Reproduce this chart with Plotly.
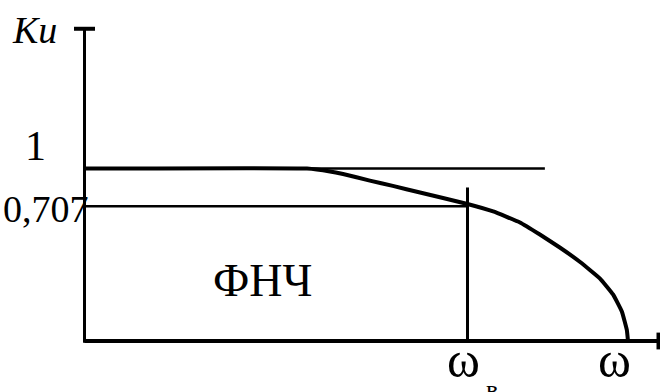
import plotly.graph_objects as go

# ---- data (schematic low-pass filter response) ----
curve_x = [0.0, 0.581, 0.641, 0.675, 0.745, 0.805, 0.876, 0.936, 1.0, 1.067,
           1.137, 1.189, 1.241, 1.294, 1.346, 1.380, 1.403, 1.416, 1.419]
curve_y = [1.0, 1.0, 0.983, 0.968, 0.930, 0.899, 0.861, 0.829, 0.794, 0.751,
           0.687, 0.617, 0.542, 0.458, 0.362, 0.270, 0.171, 0.064, 0.0]

level_one = 1.0
level_one_end = 1.202
cut_level = 0.781          # drawn height of the 0,707 level
cut_freq = 1.0
cut_vline_top = 0.89
x_axis_end = 1.5
y_axis_top = 1.81

tick_labels_y = ["1", "0,707"]
x_labels = ["ω", "ω"]
cut_sub = "в"
area_label = "ФНЧ"
y_title = "Ku"

W, H = 660, 392
X0, SX = 84.5, 383.0
Y0, SY = 341.0, 172.5

fig = go.Figure()
black = "black"

# axes
fig.add_trace(go.Scatter(x=[0, 0], y=[-0.01, y_axis_top], mode="lines",
                         line=dict(color=black, width=3), hoverinfo="skip"))
fig.add_trace(go.Scatter(x=[0, x_axis_end], y=[0, 0], mode="lines",
                         line=dict(color=black, width=4), hoverinfo="skip"))
# arrow caps
fig.add_trace(go.Scatter(x=[0], y=[y_axis_top], mode="markers",
                         marker=dict(symbol="line-ew-open", size=15, color=black,
                                     line=dict(color=black, width=4)),
                         hoverinfo="skip"))
fig.add_trace(go.Scatter(x=[x_axis_end], y=[0], mode="markers",
                         marker=dict(symbol="line-ns-open", size=12, color=black,
                                     line=dict(color=black, width=5)),
                         hoverinfo="skip"))
# level lines
fig.add_trace(go.Scatter(x=[0, level_one_end], y=[level_one, level_one], mode="lines",
                         line=dict(color=black, width=2.5), hoverinfo="skip"))
fig.add_trace(go.Scatter(x=[0, cut_freq], y=[cut_level, cut_level], mode="lines",
                         line=dict(color=black, width=2.5), hoverinfo="skip"))
fig.add_trace(go.Scatter(x=[cut_freq, cut_freq], y=[0, cut_vline_top], mode="lines",
                         line=dict(color=black, width=3), hoverinfo="skip"))
# response curve
fig.add_trace(go.Scatter(x=curve_x, y=curve_y, mode="lines",
                         line=dict(color=black, width=4, shape="spline", smoothing=0.3),
                         hoverinfo="skip"))

serif = "Liberation Serif, DejaVu Serif, serif"


def ann(text, px, py, size, xanchor="center", italic=False):
    t = f"<i>{text}</i>" if italic else text
    fig.add_annotation(x=px / W, y=1 - py / H, xref="paper", yref="paper",
                       text=t, showarrow=False, xanchor=xanchor, yanchor="middle",
                       font=dict(family=serif, size=size, color=black))


ann(y_title, 10, 30, 38, xanchor="left", italic=True)
ann(tick_labels_y[0], 35, 146, 42)
ann(tick_labels_y[1], 91, 209, 38, xanchor="right")
ann(area_label, 262, 280, 46)
ann(x_labels[0], 463, 360, 50)
ann(x_labels[1], 614, 360, 50)
ann(cut_sub, 492, 389, 26)

fig.update_layout(
    width=W, height=H, margin=dict(l=0, r=0, t=0, b=0),
    paper_bgcolor="white", plot_bgcolor="white", showlegend=False,
    xaxis=dict(range=[-X0 / SX, (W - X0) / SX], visible=False, fixedrange=True),
    yaxis=dict(range=[-(H - Y0) / SY, Y0 / SY], visible=False, fixedrange=True),
)

fig.write_html("out.html", config={"displayModeBar": False})

with open("out.html", encoding="utf-8") as f:
    html = f.read()
html = html.replace("<head>", "<head><style>html,body{margin:0;padding:0;overflow:hidden}</style>", 1)
with open("out.html", "w", encoding="utf-8") as f:
    f.write(html)
